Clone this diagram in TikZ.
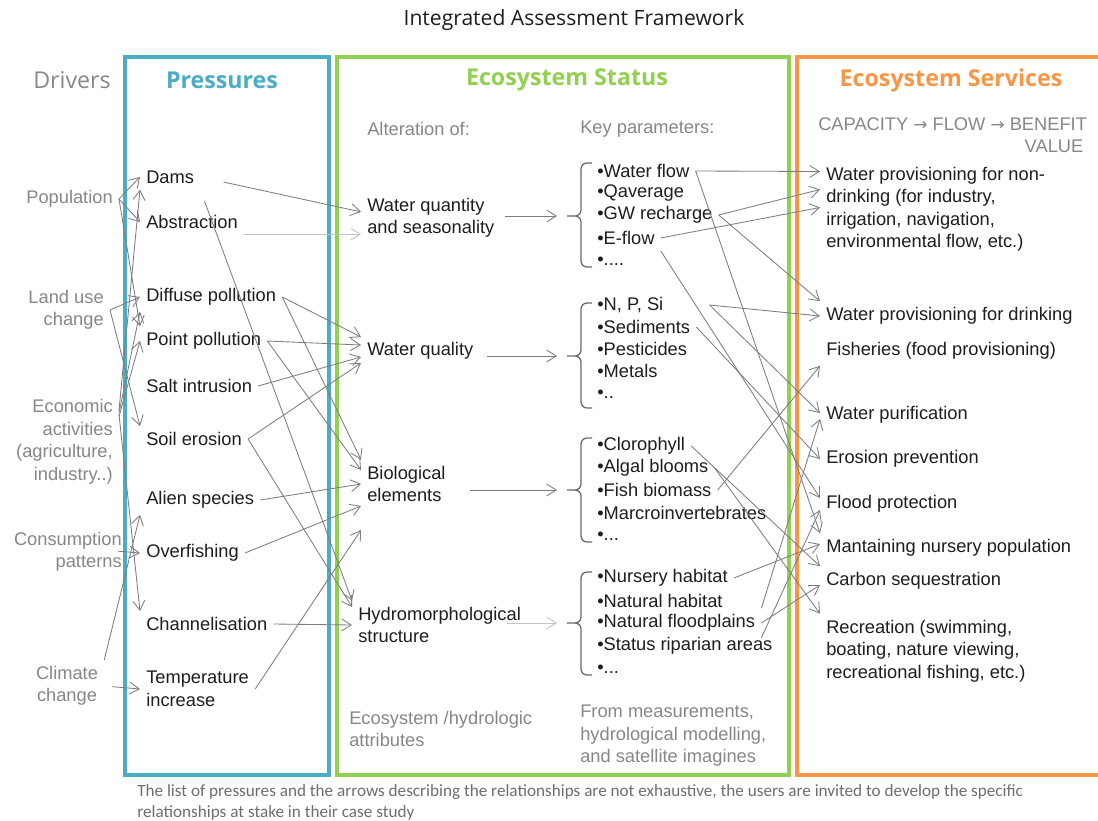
\documentclass[tikz,border=0pt]{standalone}
\usepackage{fontspec}
\setmainfont{Liberation Sans}
\newfontfamily\headfont{Open Sans}
\newfontfamily\notefont{Carlito}
\newfontfamily\symfont{DejaVu Sans}
\usepackage{xcolor}
\definecolor{presblue}{RGB}{75,172,198}
\definecolor{statgreen}{RGB}{146,208,80}
\definecolor{servorange}{RGB}{247,150,70}
\definecolor{labelgray}{RGB}{135,135,135}
\definecolor{notegray}{RGB}{110,110,110}
\definecolor{arrowgray}{RGB}{125,125,125}
\definecolor{faintgray}{RGB}{195,195,195}
\definecolor{bracegray}{RGB}{105,105,105}
\definecolor{inkblack}{RGB}{30,30,30}
\usepackage{tikz}
\usetikzlibrary{arrows.meta}

\begin{document}
\begin{tikzpicture}[
  x=0.025cm, y=-0.025cm,
  txt/.style={font=\fontsize{13}{16}\selectfont, text=inkblack, inner sep=0.15cm},
  item/.style={txt, anchor=west, align=left},
  drv/.style={txt, text=labelgray, anchor=east, align=right},
  note/.style={txt, text=labelgray, anchor=west, align=left},
  head/.style={font=\headfont\bfseries\fontsize{16.5}{20}\selectfont},
  panel/.style={line width=2.2pt},
  arr/.style={-{Straight Barb[length=2.4mm, width=3mm]}, line width=0.6pt, draw=arrowgray},
  faintarr/.style={arr, draw=faintgray},
  kbrace/.style={draw=bracegray, line width=0.9pt, rounded corners=0.15cm}
]

\fill[white] (0,0) rectangle (1098,821);
\useasboundingbox (0,0) rectangle (1098,821);

%% frames
\draw[panel, presblue] (125,57) rectangle (329,775);
\draw[panel, statgreen] (337,57) rectangle (789,775);
\draw[panel, servorange] (797,57) rectangle (1120,775);

\node[font=\headfont\fontsize{15}{18}\selectfont, text=inkblack] (title) at (574,20) {Integrated Assessment Framework};

%% column headings
\node[font=\headfont\fontsize{16.5}{20}\selectfont, text=labelgray] (hdrv) at (72,80) {Drivers};
\node[head, text=presblue] (hpres) at (222,80) {Pressures};
\node[head, text=statgreen] (hstat) at (567,80) {Ecosystem Status};
\node[head, text=servorange] (hserv) at (951,80) {Ecosystem Services};

%% drivers
\node[drv] (pop) at (119,199) {Population};
\node[drv] (land) at (110,310) {Land use\\change};
\node[drv] (econ) at (119,442) {Economic\\activities\\(agriculture,\\industry..)};
\node[drv] (cons) at (128,552) {Consumption\\patterns};
\node[drv, anchor=center, align=center] (clim) at (67,686) {Climate\\change};

%% pressures
\node[item] (dams) at (140,177) {Dams};
\node[item] (abstr) at (140,222) {Abstraction};
\node[item] (diffp) at (140,297) {Diffuse pollution};
\node[item] (pointp) at (140,341) {Point pollution};
\node[item] (salt) at (140,386) {Salt intrusion};
\node[item] (soil) at (140,439) {Soil erosion};
\node[item] (alien) at (140,500) {Alien species};
\node[item] (overf) at (140,553) {Overfishing};
\node[item] (chan) at (140,624) {Channelisation};
\node[item] (temp) at (140,689) {Temperature\\increase};

%% ecosystem status
\node[note] (alter) at (361,129) {Alteration of:};
\node[item] (wquant) at (361,218) {Water quantity\\and seasonality};
\node[item] (wqual) at (361,351) {Water quality};
\node[item] (bio) at (361,484) {Biological\\elements};
\node[item] (hydro) at (352,625) {Hydromorphological\\structure};
\node[note] (attr) at (343,729) {Ecosystem /hydrologic\\attributes};

\node[note] (keyp) at (574,129) {Key parameters:};
\node[item] (kflow) at (591,171) {•Water flow};
\node[item] (kqavg) at (591,193) {•Qaverage};
\node[item] (kgw) at (591,215) {•GW recharge};
\node[item] (keflow) at (591,238) {•E-flow};
\node[item] (kdots1) at (591,261) {•....};
\node[item] (knps) at (591,305) {•N, P, Si};
\node[item] (ksed) at (591,327) {•Sediments};
\node[item] (kpest) at (591,349) {•Pesticides};
\node[item] (kmet) at (591,371) {•Metals};
\node[item] (kdots2) at (591,394) {•..};
\node[item] (kclor) at (591,446) {•Clorophyll};
\node[item] (kalgal) at (591,468) {•Algal blooms};
\node[item] (kfish) at (591,490) {•Fish biomass};
\node[item] (kmacro) at (591,513) {•Marcroinvertebrates};
\node[item] (kdots3) at (591,536) {•...};
\node[item] (knurs) at (591,578) {•Nursery habitat};
\node[item] (knat) at (591,601) {•Natural habitat};
\node[item] (kflood) at (591,623) {•Natural floodplains};
\node[item] (kripar) at (591,646) {•Status riparian areas};
\node[item] (kdots4) at (591,669) {•...};
\node[note] (meas) at (574,736) {From measurements,\\hydrological modelling,\\and satellite imagines};

%% braces round the parameter lists
\draw[kbrace] (592,163) -| (581,216) -- (567,216) (592,267) -| (581,216) -- (567,216);
\draw[kbrace] (592,303) -| (581,356) -- (567,356) (592,408) -| (581,356) -- (567,356);
\draw[kbrace] (592,438) -| (581,490) -- (567,490) (592,542) -| (581,490) -- (567,490);
\draw[kbrace] (592,572) -| (581,623) -- (567,623) (592,675) -| (581,623) -- (567,623);
\coordinate (tipq) at (567,216);
\coordinate (tipw) at (567,356);
\coordinate (tipb) at (567,490);
\coordinate (tiph) at (567,623);

%% ecosystem services
\node[note] (cap) at (812,124) {CAPACITY {\symfont\fontsize{12}{16}\selectfont →} FLOW {\symfont\fontsize{12}{16}\selectfont →} BENEFIT};
\node[txt, text=labelgray] (capv) at (1054,146) {VALUE};
\node[item] (snondr) at (820,209.5) {Water provisioning for non-\\drinking (for industry,\\irrigation, navigation,\\environmental flow, etc.)};
\node[item] (sdrink) at (820,316) {Water provisioning for drinking};
\node[item] (sfish) at (820,351) {Fisheries (food provisioning)};
\node[item] (spurif) at (820,415) {Water purification};
\node[item] (seros) at (820,459) {Erosion prevention};
\node[item] (sflood) at (820,504) {Flood protection};
\node[item] (snurs) at (820,548) {Mantaining nursery population};
\node[item] (scarb) at (820,581) {Carbon sequestration};
\node[item] (srecr) at (820,651) {Recreation (swimming,\\boating, nature viewing,\\recreational fishing, etc.)};

\node[font=\notefont\fontsize{12.2}{15}\selectfont, text=notegray, anchor=west, align=left, inner sep=0pt] (foot) at (137,802)
  {The list of pressures and the arrows describing the relationships are not exhaustive, the users are invited to develop the specific\\relationships at stake in their case study};

%% drivers -> pressures
\draw[arr] (pop.east) -- (dams.west);
\draw[arr] (pop.east) -- (abstr.west);
\draw[arr] (pop.east) -- (pointp.north west);
\draw[arr] (land.east) -- (diffp.west);
\draw[arr] (land.east) -- (soil.north west);
\draw[arr] (econ.30) -- (dams.south west);
\draw[arr] (econ.28) -- (diffp.south west);
\draw[arr] (econ.25) -- (pointp.west);
\draw[arr] (econ.27) -- (chan.north west);
\draw[arr, shorten <=-0.25cm] (cons.east) -- (overf.west);
\draw[arr, shorten <=0.2cm] (clim.east) -- (temp.west);
\draw[arr] (clim.north east) -- (alien.south west);

%% pressures -> status
\draw[arr, shorten <=0.6cm] (dams.east) -- (wquant.175);
\draw[faintarr] (abstr.east |- wquant.193) -- (wquant.193);
\draw[arr, shorten <=0.3cm] (dams.south east) -- (hydro.north west);
\draw[arr] (diffp.east) -- ([yshift=0.35cm]wqual.west);
\draw[arr] (pointp.east) -- ([yshift=0.15cm]wqual.west);
\draw[arr] (salt.east) -- ([yshift=-0.15cm]wqual.west);
\draw[arr] (soil.east) -- ([yshift=-0.3cm]wqual.west);
\draw[arr] (diffp.east) -- (bio.north west);
\draw[arr] (pointp.east) -- ([yshift=0.35cm]bio.west);
\draw[arr] (alien.east) -- (bio.west);
\draw[arr] (overf.east) -- ([yshift=-0.55cm]bio.west);
\draw[arr] (temp.east) -- ([yshift=-1.15cm]bio.west);
\draw[arr] (soil.east) -- ([yshift=0.45cm]hydro.west);
\draw[arr] (chan.east) -- (hydro.west);

%% status -> key parameters
\draw[arr, shorten <=0.1cm, shorten >=0.25cm] (wquant.east |- tipq) -- (tipq);
\draw[arr, shorten <=0.18cm, shorten >=0.25cm] (wqual.east |- tipw) -- (tipw);
\draw[arr, shorten <=0.45cm, shorten >=0.25cm] (bio.east |- tipb) -- (tipb);
\draw[faintarr, shorten <=-0.5cm, shorten >=0.25cm] (hydro.east |- tiph) -- (tiph);

%% key parameters -> services
\coordinate (npsout) at ([xshift=1cm]knps.east);
\draw[arr] (kflow.east) -- ([yshift=0.95cm]snondr.west);
\draw[arr] (kgw.east) -- ([yshift=0.5cm]snondr.west);
\draw[arr] (keflow.east) -- ([yshift=0.05cm]snondr.west);
\draw[arr] (kgw.east) -- (sdrink.north west);
\draw[arr] (npsout) -- (sdrink.west);
\draw[arr] (npsout) -- ([yshift=0.05cm]spurif.west);
\draw[arr] (ksed.east) -- (seros.west);
\draw[arr] (kflow.east) -- (snurs.north west);
\draw[arr] (keflow.south east) -- ([yshift=0.15cm]sflood.west);
\draw[arr] (kclor.east) -- (scarb.north west);
\draw[arr] (kalgal.east) -- (srecr.north west);
\draw[arr] (kfish.east) -- (sfish.south west);
\draw[arr] (knurs.east) -- ([yshift=0.1cm]snurs.west);
\draw[arr] (kflood.north east) -- ([yshift=-0.1cm]spurif.west);
\draw[arr] (kflood.east) -- ([yshift=-0.1cm]scarb.west);
\draw[arr] (kflood.south east) -- ([yshift=-0.15cm]sflood.west);

\end{tikzpicture}
\end{document}
